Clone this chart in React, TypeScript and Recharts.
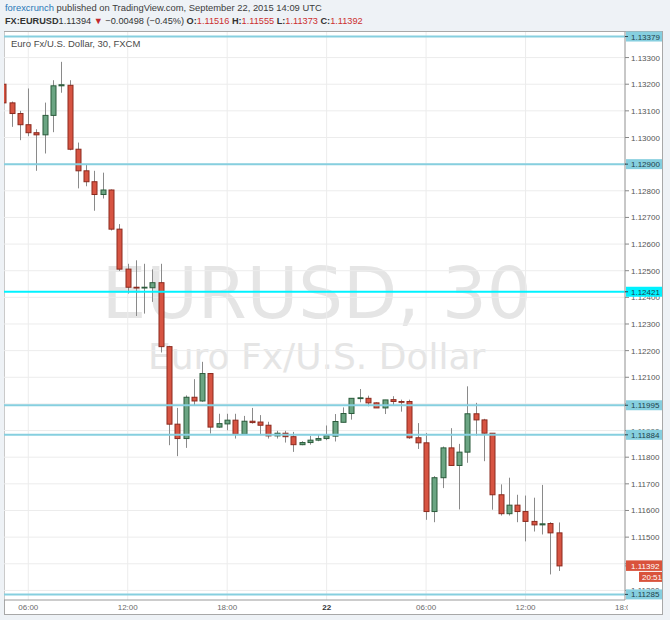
import { ComposedChart, Bar, XAxis, YAxis, CartesianGrid, ReferenceLine } from "recharts";

// 30-minute candles, Sep 21 04:30 UTC .. Sep 22 14:00 UTC
const times = [
  "04:30", "05:00", "05:30", "06:00", "06:30", "07:00", "07:30", "08:00", "08:30", "09:00",
  "09:30", "10:00", "10:30", "11:00", "11:30", "12:00", "12:30", "13:00", "13:30", "14:00",
  "14:30", "15:00", "15:30", "16:00", "16:30", "17:00", "17:30", "18:00", "18:30", "19:00",
  "19:30", "20:00", "20:30", "21:00", "21:30", "22:00", "22:30", "23:00", "23:30", "00:00",
  "00:30", "01:00", "01:30", "02:00", "02:30", "03:00", "03:30", "04:00", "04:30", "05:00",
  "05:30", "06:00", "06:30", "07:00", "07:30", "08:00", "08:30", "09:00", "09:30", "10:00",
  "10:30", "11:00", "11:30", "12:00", "12:30", "13:00", "13:30", "14:00",
];

const opens = [
  1.132, 1.1313, 1.1309, 1.13048, 1.13018, 1.1301, 1.13083, 1.13194, 1.13196, 1.12956,
  1.12875, 1.12834, 1.12786, 1.12803, 1.12656, 1.12506, 1.12438, 1.12436, 1.12436, 1.12455,
  1.12215, 1.11924, 1.1187, 1.12025, 1.12011, 1.12114, 1.11913, 1.11925, 1.11939, 1.11886,
  1.11935, 1.11932, 1.1192, 1.1188, 1.1189, 1.11877, 1.11847, 1.11855, 1.11864, 1.1187,
  1.11879, 1.11931, 1.11964, 1.12021, 1.12021, 1.12004, 1.11985, 1.12016, 1.12009, 1.12009,
  1.11873, 1.11854, 1.11596, 1.11723, 1.11835, 1.11769, 1.11819, 1.11963, 1.1194, 1.1189,
  1.11659, 1.11588, 1.1162, 1.11596, 1.11559, 1.11546, 1.11551, 1.11516,
];

const highs = [
  1.13208, 1.13135, 1.131, 1.13184, 1.13031, 1.13131, 1.13215, 1.13284, 1.13215, 1.12981,
  1.12899, 1.12875, 1.12868, 1.12805, 1.12675, 1.12526, 1.12539, 1.12526, 1.12505, 1.12526,
  1.12218, 1.11985, 1.12032, 1.12093, 1.12158, 1.12116, 1.11963, 1.11963, 1.11963, 1.11955,
  1.11985, 1.11958, 1.11933, 1.11899, 1.11899, 1.11895, 1.1186, 1.1188, 1.11885, 1.11919,
  1.11962, 1.11987, 1.12021, 1.12056, 1.12031, 1.12006, 1.12015, 1.12029, 1.12016, 1.12016,
  1.11928, 1.11891, 1.11729, 1.1184, 1.11909, 1.1185, 1.12066, 1.12004, 1.11944, 1.1189,
  1.11698, 1.11723, 1.11659, 1.11656, 1.11648, 1.11696, 1.11556, 1.11555,
];

const lows = [
  1.13125, 1.1304, 1.1299, 1.13005, 1.12875, 1.1294, 1.1302, 1.13168, 1.12952, 1.12809,
  1.12817, 1.12725, 1.12771, 1.12651, 1.12499, 1.12414, 1.1233, 1.12339, 1.12383, 1.12193,
  1.11845, 1.11804, 1.11835, 1.11995, 1.12008, 1.11889, 1.1191, 1.11901, 1.1187, 1.11884,
  1.11926, 1.11883, 1.1187, 1.1187, 1.11855, 1.1182, 1.11845, 1.11847, 1.1186, 1.11864,
  1.11859, 1.11931, 1.11941, 1.12006, 1.11991, 1.11985, 1.11962, 1.11996, 1.11971, 1.11869,
  1.11831, 1.11565, 1.11556, 1.11684, 1.11769, 1.11604, 1.11779, 1.11881, 1.11785, 1.11603,
  1.11581, 1.11581, 1.11556, 1.11484, 1.11521, 1.1151, 1.1136, 1.11373,
];

const closes = [
  1.1313, 1.1309, 1.13048, 1.13018, 1.1301, 1.13083, 1.13194, 1.13198, 1.12956, 1.12875,
  1.12834, 1.12786, 1.12803, 1.12656, 1.12506, 1.12438, 1.12436, 1.12438, 1.12455, 1.12215,
  1.11924, 1.1187, 1.12025, 1.12011, 1.12114, 1.11913, 1.11926, 1.11939, 1.11886, 1.11935,
  1.1193, 1.1192, 1.1188, 1.1189, 1.11877, 1.11847, 1.11855, 1.11864, 1.1187, 1.11881,
  1.11934, 1.11964, 1.12021, 1.12023, 1.12004, 1.11985, 1.12015, 1.12009, 1.12008, 1.11873,
  1.11854, 1.11596, 1.11723, 1.11835, 1.11769, 1.11819, 1.11963, 1.1194, 1.1189, 1.11659,
  1.11588, 1.1162, 1.11596, 1.11559, 1.11546, 1.1155, 1.11516, 1.11392,
];

// x axis: slot number of each labelled time
const tickSlots = [3, 15, 27, 39, 51, 63, 75];
const tickLabels = ["06:00", "12:00", "18:00", "22", "06:00", "12:00", "18:00"];

const priceTicks = [
  1.113, 1.114, 1.115, 1.116, 1.117, 1.118, 1.119, 1.12, 1.121, 1.122, 1.123,
  1.124, 1.125, 1.126, 1.127, 1.128, 1.129, 1.13, 1.131, 1.132, 1.133,
];

// drawn horizontal levels
const levels = [1.13379, 1.129, 1.12421, 1.11995, 1.11884, 1.11285];
const brightLevel = 1.12421;
const lastPrice = 1.11392;
const countdown = "20:51";

const data = times.map((t, i) => ({
  slot: i,
  time: t,
  open: opens[i],
  high: highs[i],
  low: lows[i],
  close: closes[i],
  range: [lows[i], highs[i]],
}));

// level tags go last so they paint over the plain price ticks
const axisTicks = [...priceTicks, ...levels, lastPrice];

const UP = "#6ba583";
const UP_EDGE = "#2b5b3b";
const DOWN = "#d75442";
const DOWN_EDGE = "#8b2a1e";
const LEVEL = "#86cfdf";
const LEVEL_BRIGHT = "#00f2ff";
const LAST = "#d9533c";

function Candle(props: any) {
  const { x, y, width, height, payload } = props;
  if (x == null || y == null) return null;
  const { open, high, low, close } = payload;
  const top = Math.min(y, y + height);
  const h = Math.abs(height);
  const yOf = (v: number) => top + ((high - v) / (high - low)) * h;
  const cx = Math.round(x + width / 2) + 0.5;
  const up = close > open;
  const bTop = yOf(Math.max(open, close));
  const bBot = yOf(Math.min(open, close));
  return (
    <g>
      <line x1={cx} x2={cx} y1={top} y2={top + h} stroke="#8a8a8a" strokeWidth={1} />
      <rect
        x={cx - 2.5}
        y={bTop}
        width={5}
        height={Math.max(bBot - bTop, 0.8)}
        fill={up ? UP : DOWN}
        stroke={up ? UP_EDGE : DOWN_EDGE}
        strokeWidth={1}
      />
    </g>
  );
}

function TimeTick(props: any) {
  const { x, y, payload, index } = props;
  const label = tickLabels[tickSlots.indexOf(payload.value)];
  const last = index === tickSlots.length - 1;
  return (
    <g>
      {last && (
        <defs>
          <clipPath id="lastTickClip">
            <rect x={x - 20} y={y - 4} width={23} height={16} />
          </clipPath>
        </defs>
      )}
      <text
        x={x}
        y={y + 8}
        textAnchor="middle"
        fontSize={8}
        fill={label === "22" ? "#333" : "#6b6b6b"}
        fontWeight={label === "22" ? "bold" : "normal"}
        clipPath={last ? "url(#lastTickClip)" : undefined}
      >
        {label}
      </text>
    </g>
  );
}

function PriceTick(props: any) {
  const { x, y, payload, index } = props;
  const v = payload.value;
  const isTag = index >= priceTicks.length;
  if (!isTag) {
    return (
      <text x={x} y={y + 3} fontSize={8} fill="#555">
        {v.toFixed(5)}
      </text>
    );
  }
  if (v === lastPrice) {
    return (
      <g>
        <rect x={x - 5} y={y - 5.5} width={38} height={10.5} fill={LAST} />
        <text x={x} y={y + 3} fontSize={8} fill="#fff">
          {v.toFixed(5)}
        </text>
        <rect x={x + 8} y={y + 6} width={25} height={10} fill={LAST} />
        <text x={x + 11} y={y + 14} fontSize={8} fill="#fff">
          {countdown}
        </text>
      </g>
    );
  }
  return (
    <g>
      <rect x={x - 5} y={y - 5} width={38} height={10} fill={v === brightLevel ? LEVEL_BRIGHT : LEVEL} />
      <line x1={x - 6} x2={x - 3} y1={y} y2={y} stroke="#2b4a55" />
      <text x={x} y={y + 3} fontSize={8} fill="#1f3f4a">
        {v.toFixed(5)}
      </text>
    </g>
  );
}

export default function App() {
  return (
    <div
      style={{
        position: "absolute",
        left: 0,
        top: 0,
        width: 670,
        height: 620,
        overflow: "hidden",
        background: "#eef2f6",
        fontFamily: '"Liberation Sans", Arial, sans-serif',
      }}
    >
      <div style={{ position: "absolute", left: 5, top: 2, fontSize: 9.4, lineHeight: "12px", color: "#3c3c3c", whiteSpace: "nowrap" }}>
        <span style={{ color: "#2a78b6" }}>forexcrunch</span> published on TradingView.com, September 22, 2015 14:09 UTC
      </div>
      <div style={{ position: "absolute", left: 5, top: 15, fontSize: 9.2, lineHeight: "12px", color: "#333", whiteSpace: "nowrap" }}>
        <b>FX:EURUSD</b>1.11394 <span style={{ color: "#c0282d" }}>▼</span> −0.00498 (−0.45%) <b>O:</b>
        <span style={{ color: "#cc2f2f" }}>1.11516</span> <b>H:</b>
        <span style={{ color: "#cc2f2f" }}>1.11555</span> <b>L:</b>
        <span style={{ color: "#cc2f2f" }}>1.11373</span> <b>C:</b>
        <span style={{ color: "#cc2f2f" }}>1.11392</span>
      </div>

      <div
        style={{
          position: "absolute",
          left: 4,
          top: 31,
          width: 659,
          height: 584,
          boxSizing: "border-box",
          background: "#fff",
          border: "1px solid #a8a8a8",
        }}
      />

      <svg style={{ position: "absolute", left: 0, top: 0 }} width={670} height={620}>
        <text
          x={316.7}
          y={318}
          textAnchor="middle"
          fontFamily='"DejaVu Sans", sans-serif'
          fontSize={72}
          textLength={430}
          lengthAdjust="spacingAndGlyphs"
          fill="#e5e5e5"
        >
          EURUSD, 30
        </text>
        <text x={316.7} y={369} textAnchor="middle" fontFamily='"DejaVu Sans", sans-serif' fontSize={36} fill="#e5e5e5">
          Euro Fx/U.S. Dollar
        </text>
      </svg>

      <div style={{ position: "absolute", left: 4, top: 31 }}>
        <ComposedChart width={658} height={583} data={data} margin={{ top: 1, right: 0, bottom: 0, left: 0 }}>
          <CartesianGrid stroke="#ececec" horizontalValues={priceTicks} />
          <XAxis
            type="number"
            dataKey="slot"
            domain={[0.07, 75]}
            ticks={tickSlots}
            allowDataOverflow
            height={14}
            tickLine={false}
            tickSize={0}
            tickMargin={2}
            axisLine={{ stroke: "#9a9a9a" }}
            tick={<TimeTick />}
            interval={0}
          />
          <YAxis
            orientation="right"
            width={37}
            domain={[1.11264, 1.13396]}
            allowDataOverflow
            ticks={axisTicks}
            interval={0}
            tickSize={4}
            tickMargin={2}
            tick={<PriceTick />}
            tickLine={{ stroke: "#888" }}
            axisLine={{ stroke: "#9a9a9a" }}
          />
          {levels.map((v) => (
            <ReferenceLine key={v} y={v} stroke={v === brightLevel ? LEVEL_BRIGHT : LEVEL} strokeWidth={2} />
          ))}
          <Bar dataKey="range" barSize={6} shape={<Candle />} isAnimationActive={false} />
        </ComposedChart>
      </div>

      <div style={{ position: "absolute", left: 11, top: 38, fontSize: 9.5, lineHeight: "12px", color: "#4a4a4a", whiteSpace: "nowrap" }}>
        Euro Fx/U.S. Dollar, 30, FXCM
      </div>
    </div>
  );
}
